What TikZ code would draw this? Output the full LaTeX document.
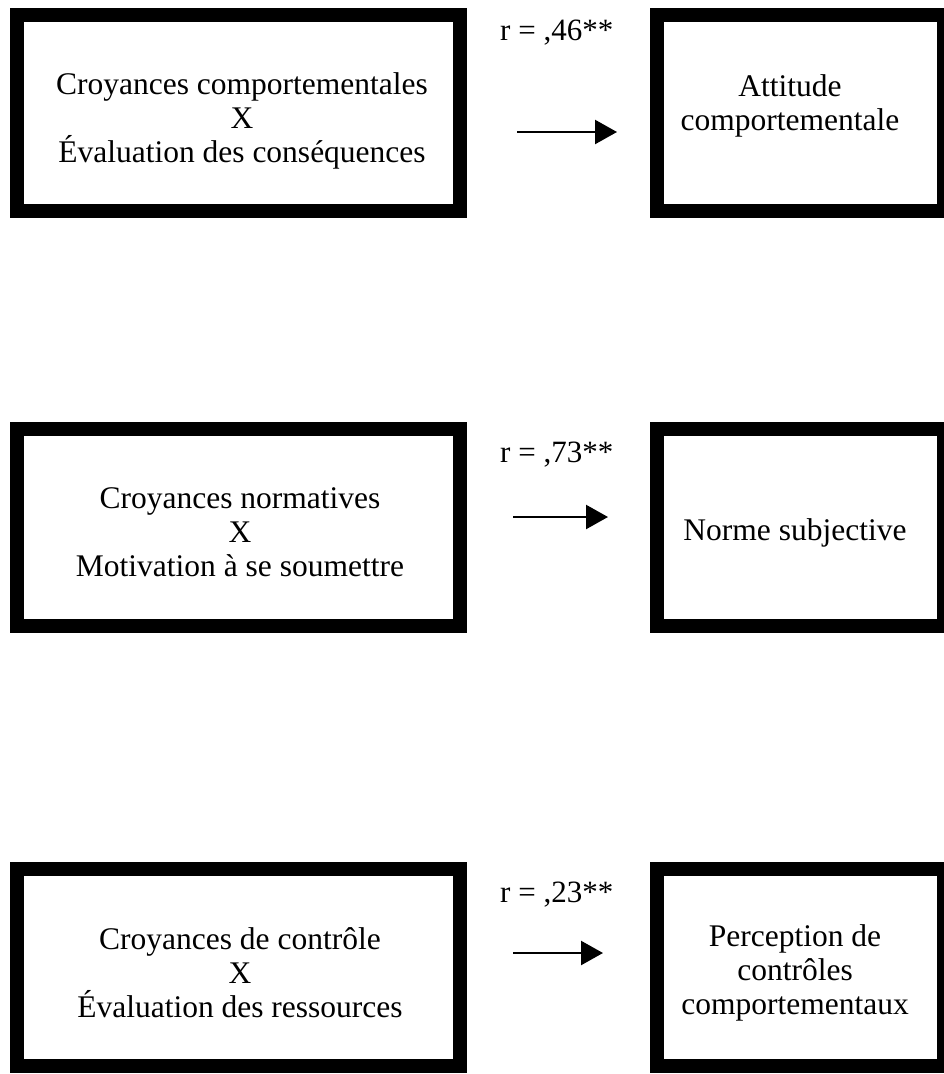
\documentclass[tikz,border=0pt]{standalone}
\usepackage{fontspec}
\setmainfont{Liberation Serif}
\usetikzlibrary{arrows.meta}
\begin{document}
\begin{tikzpicture}[x=1pt,y=-1pt,
  box/.style={draw=black, line width=14pt, rectangle, inner sep=0pt, fill=none},
  txt/.style={align=center, inner sep=0pt, font=\fontsize{31.5}{34}\selectfont},
  lab/.style={anchor=west, inner sep=0pt, font=\fontsize{31}{34}\selectfont},
  arr/.style={line width=2.4pt, -{Triangle[length=22pt,width=24pt]}}]
\useasboundingbox (0,0) rectangle (944,1074);
% row 1
\node[box, minimum width=443pt, minimum height=196pt] (L1) at (238.5,113) {};
\node[box, minimum width=287pt, minimum height=196pt] (R1) at (800.5,113) {};
\node[txt] (tL1) at (242,121) {Croyances comportementales\\X\\Évaluation des conséquences};
\node[txt] (tR1) at (790,106) {Attitude\\comportementale};
\node[lab] (r1) at (500,33) {r = ,46**};
\coordinate (a1s) at (517,132);
\coordinate (a1e) at (617,132);
\draw[arr] (a1s) -- (a1e);
% row 2
\node[box, minimum width=443pt, minimum height=197pt] (L2) at (238.5,527.5) {};
\node[box, minimum width=287pt, minimum height=197pt] (R2) at (800.5,527.5) {};
\node[txt] (tL2) at (240,532) {Croyances normatives\\X\\Motivation à se soumettre};
\node[txt] (tR2) at (795,533) {Norme subjective};
\node[lab] (r2) at (500,455) {r = ,73**};
\coordinate (a2s) at (513,517);
\coordinate (a2e) at (608,517);
\draw[arr] (a2s) -- (a2e);
% row 3
\node[box, minimum width=443pt, minimum height=197pt] (L3) at (238.5,967.5) {};
\node[box, minimum width=287pt, minimum height=197pt] (R3) at (800.5,967.5) {};
\node[txt] (tL3) at (240,973) {Croyances de contrôle\\X\\Évaluation des ressources};
\node[txt] (tR3) at (795,973) {Perception de\\contrôles\\comportementaux};
\node[lab] (r3) at (500,895) {r = ,23**};
\coordinate (a3s) at (513,953);
\coordinate (a3e) at (603,953);
\draw[arr] (a3s) -- (a3e);
\end{tikzpicture}
\end{document}
